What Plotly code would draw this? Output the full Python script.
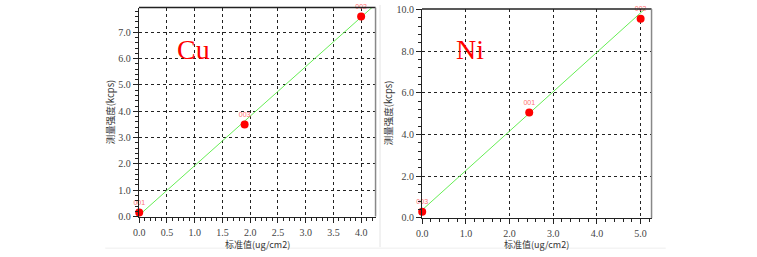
import plotly.graph_objects as go

W, H = 757, 257

# ---- data ----
cu_x = [0.0, 1.9, 4.0]
cu_y = [0.15, 3.5, 7.6]
cu_labels = ["001", "003", "002"]
cu_fit_x = [0.03, 4.3]
cu_fit_y = [0.11, 8.14]

ni_x = [0.0, 2.45, 5.0]
ni_y = [0.3, 5.05, 9.55]
ni_labels = ["003", "001", "002"]
ni_fit_x = [0.04, 5.3]
ni_fit_y = [0.46, 10.4]

x_title = "标准值(ug/cm2)"
y_title = "测量强度(kcps)"

# pixel geometry -> domains
def xd(a, b):
    return [a / W, b / W]

def yd(top, bottom):
    return [1 - bottom / H, 1 - top / H]

fig = go.Figure()

green = "#66ee55"
for (fx, fy, px, py, lab, xa, ya) in [
    (cu_fit_x, cu_fit_y, cu_x, cu_y, cu_labels, "x", "y"),
    (ni_fit_x, ni_fit_y, ni_x, ni_y, ni_labels, "x2", "y2"),
]:
    fig.add_trace(go.Scatter(x=fx, y=fy, mode="lines", line=dict(color=green, width=1),
                             xaxis=xa, yaxis=ya, showlegend=False, hoverinfo="skip"))
    fig.add_trace(go.Scatter(x=px, y=py, mode="markers+text", text=lab,
                             textposition="top center",
                             textfont=dict(size=7, color="#ff7070", family="Liberation Sans"),
                             marker=dict(color="#ff0000", size=8),
                             xaxis=xa, yaxis=ya, showlegend=False, cliponaxis=False))

tickfont = dict(family="Liberation Serif", size=10, color="#444444")
common = dict(showline=True, linecolor="#222", linewidth=1.2, ticks="outside",
              ticklen=5, tickcolor="#222", tickfont=tickfont, zeroline=False,
              showgrid=True, gridcolor="#222", griddash="dot", gridwidth=1.3,
              ticklabeloverflow="allow")

fig.update_layout(
    width=W, height=H, margin=dict(l=0, r=0, t=0, b=0),
    paper_bgcolor="white", plot_bgcolor="white",
    xaxis=dict(domain=xd(134, 372.5), range=[-0.005, 4.26], dtick=0.5, tickformat=".1f",
               anchor="y", ticklabelstandoff=1,
               minor=dict(dtick=0.1, ticks="outside", ticklen=3, tickcolor="#222", showgrid=False),
               **common),
    yaxis=dict(domain=yd(2.7, 221), range=[0, 7.94], dtick=1, tickformat=".1f",
               anchor="x",
               minor=dict(dtick=0.2, ticks="outside", ticklen=3, tickcolor="#222", showgrid=False),
               **common),
    xaxis2=dict(domain=xd(419.3, 650.7), range=[-0.005, 5.25], dtick=1, tickformat=".1f",
                anchor="y2", ticklabelstandoff=1,
                minor=dict(dtick=0.2, ticks="outside", ticklen=3, tickcolor="#222", showgrid=False),
                **common),
    yaxis2=dict(domain=yd(4.3, 222.7), range=[-0.01, 10.01], dtick=2, tickformat=".1f",
                anchor="x2",
                minor=dict(dtick=0.4, ticks="outside", ticklen=3, tickcolor="#222", showgrid=False),
                **common),
)

shapes = []
# top borders (black) and right borders (gray)
for xa, ya in [("x", "y"), ("x2", "y2")]:
    shapes.append(dict(type="line", xref=f"{xa} domain", yref=f"{ya} domain",
                       x0=0, x1=1, y0=1, y1=1, line=dict(color="#222", width=1.5)))
    shapes.append(dict(type="line", xref=f"{xa} domain", yref=f"{ya} domain",
                       x0=1, x1=1, y0=0, y1=1, line=dict(color="#888", width=1.5)))
# faint panel separators
shapes.append(dict(type="line", xref="paper", yref="paper", x0=377 / W, x1=377 / W,
                   y0=1 - 253 / H, y1=1, line=dict(color="#e4e4e4", width=1)))
shapes.append(dict(type="line", xref="paper", yref="paper", x0=100 / W, x1=665 / W,
                   y0=1 - 254 / H, y1=1 - 254 / H, line=dict(color="#eeeeee", width=1)))
fig.update_layout(shapes=shapes)

ann = []
titlefont = dict(family="Noto Sans CJK SC", size=9, color="#333")
for cx, cy_x in [(254, 250), (535, 250)]:
    ann.append(dict(x=cx / W, y=1 - cy_x / H, xref="paper", yref="paper", text=x_title,
                    showarrow=False, font=titlefont, xanchor="center", yanchor="middle"))
for cx, cy in [(105, 112), (385, 112)]:
    ann.append(dict(x=cx / W, y=1 - cy / H, xref="paper", yref="paper", text=y_title,
                    showarrow=False, font=dict(family="Noto Sans CJK SC", size=9.5, color="#333"),
                    textangle=-90, xanchor="center", yanchor="middle"))
for txt, cx, cy in [("Cu", 189, 46), ("Ni", 468, 46)]:
    ann.append(dict(x=cx / W, y=1 - cy / H, xref="paper", yref="paper", text=txt,
                    showarrow=False, font=dict(family="Liberation Serif", size=28, color="#ff0000"),
                    xanchor="center", yanchor="middle"))
fig.update_layout(annotations=ann)

fig.write_html("out.html")
